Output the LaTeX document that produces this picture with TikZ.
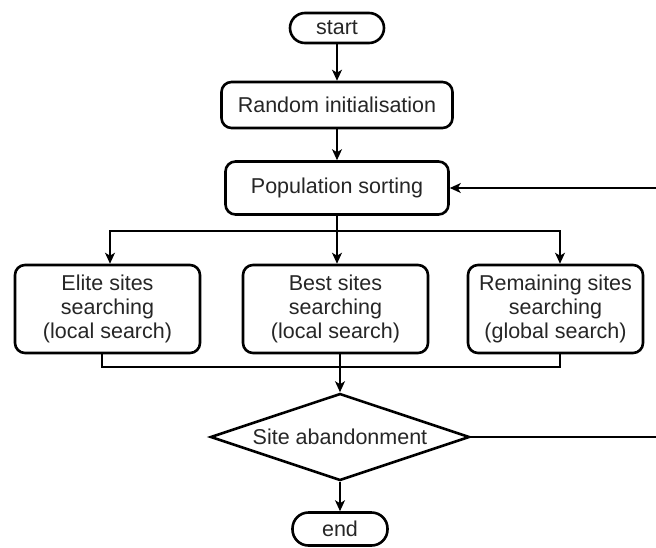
\documentclass[tikz,border=0pt]{standalone}
\usepackage{fontspec}
\setmainfont{Liberation Sans}
\usetikzlibrary{shapes.geometric,arrows.meta,calc}
\begin{document}
\begin{tikzpicture}[x=1pt,y=-1pt,
  every node/.style={font=\fontsize{21.5}{24}\selectfont, text=black!85},
  box/.style={draw=black, line width=2.6pt, rounded corners=10pt, inner sep=0pt, align=center},
  term/.style={draw=black, line width=2.6pt, rounded corners=15pt, inner sep=0pt, minimum width=94pt, minimum height=30pt},
  dec/.style={draw=black, line width=2.6pt, diamond, aspect=2.977, inner sep=0pt, minimum width=259pt, minimum height=87pt},
  conn/.style={draw=black, line width=1.4pt},
  arr/.style={conn, -{Stealth[length=11pt,width=10pt,inset=3pt]}}]
\useasboundingbox (0,0) rectangle (656,547);
\fill[white] (0,0) rectangle (656,547);
\node[term] (start) at (337,28) {start};
\node[box, minimum width=231pt, minimum height=46pt] (init) at (337,105) {Random initialisation};
\node[box, minimum width=223pt, minimum height=53pt] (sort) at (337,188) {Population sorting};
\node[box, minimum width=185pt, minimum height=88pt] (elite) at (107.5,309) {Elite sites\\searching\\(local search)};
\node[box, minimum width=185pt, minimum height=88pt] (best) at (335.5,309) {Best sites\\searching\\(local search)};
\node[box, minimum width=175pt, minimum height=88pt] (rem) at (555.5,309) {Remaining sites\\searching\\(global search)};
\node[dec] (site) at (340,437) {Site abandonment};
\node[term, minimum width=95pt, minimum height=33pt, rounded corners=16pt] (end) at (340,529) {end};
\coordinate (split) at (337,231);
\coordinate (merge) at (340,367);
\coordinate (rt) at (661,437);
\draw[arr] (start) -- (init);
\draw[arr] (init) -- (sort);
\draw[conn] (sort.south) -- (split);
\draw[arr] (split) -| (elite.north -| 110,0);
\draw[arr] (split) -- (best.north -| 337,0);
\draw[arr] (split) -| (rem.north -| 560,0);
\draw[conn] (elite.south -| 102,0) |- (merge);
\draw[conn] (rem.south -| 560,0) |- (merge);
\draw[conn] (best.south -| 340,0) -- (merge);
\draw[arr] (merge) -- (site.north);
\draw[arr] (site.south) -- (end.north);
\draw[arr] (site.east) -- (rt) |- (sort.east);
\end{tikzpicture}
\end{document}
